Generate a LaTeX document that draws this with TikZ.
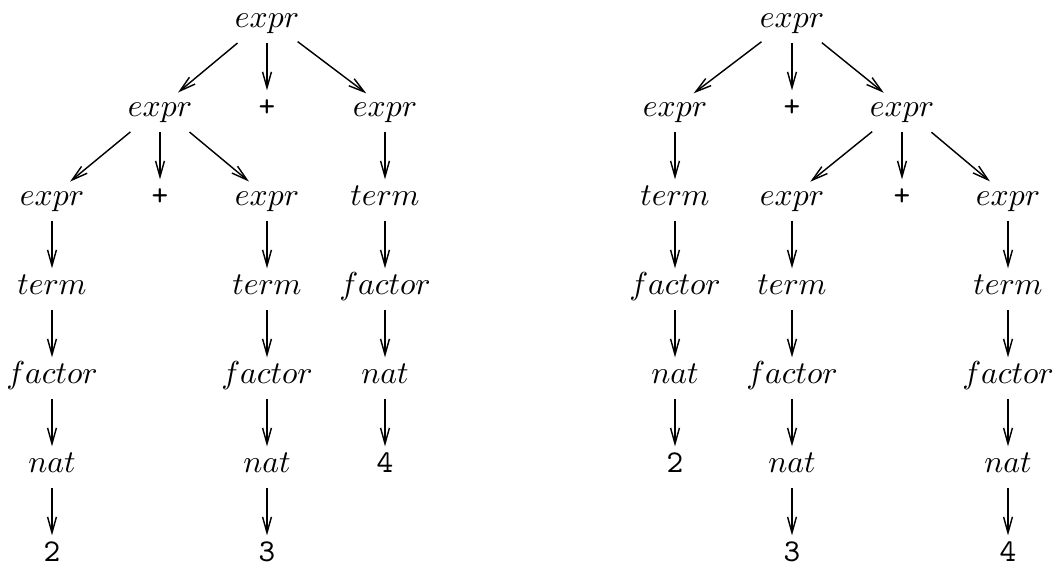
\documentclass[tikz,border=0pt]{standalone}
\usetikzlibrary{arrows.meta}
\begin{document}
\begin{tikzpicture}[x=0.3153pt,y=-0.3153pt,
  lbl/.style={inner sep=0pt,text height=7.4pt,text depth=2pt},
  tok/.style={lbl,font=\ttfamily},
  edge/.style={line width=0.45pt,-{Straight Barb[length=5pt,width=2.8pt,line width=0.45pt]}},
  vert/.style={edge,shorten <=7.7pt,shorten >=5.4pt},
  diag/.style={edge,shorten <=12.1pt,shorten >=7.4pt}]
\useasboundingbox (0,0) rectangle (1053,566);
% rows (node centres)
\def\ra{18.5}\def\rb{107.5}\def\rc{196.5}\def\rd{285.5}\def\re{374.5}\def\rf{463.5}\def\rg{552.5}
% ---------- left tree ----------
\node[lbl] (L0) at (267,\ra) {$expr$};
\node[lbl] (L1a) at (160,\rb) {$expr$};
\node[tok] (L1b) at (267,\rb) {+};
\node[lbl] (L1c) at (385,\rb) {$expr$};
\node[lbl] (L2a) at (52,\rc) {$expr$};
\node[tok] (L2b) at (160,\rc) {+};
\node[lbl] (L2c) at (267,\rc) {$expr$};
\node[lbl] (L2d) at (385,\rc) {$term$};
\node[lbl] (L3a) at (52,\rd) {$term$};
\node[lbl] (L3c) at (267,\rd) {$term$};
\node[lbl] (L3d) at (385,\rd) {$factor$};
\node[lbl] (L4a) at (52,\re) {$factor$};
\node[lbl] (L4c) at (267,\re) {$factor$};
\node[lbl] (L4d) at (385,\re) {$nat$};
\node[lbl] (L5a) at (52,\rf) {$nat$};
\node[lbl] (L5c) at (267,\rf) {$nat$};
\node[tok] (L5d) at (385,\rf) {4};
\node[tok] (L6a) at (52,\rg) {2};
\node[tok] (L6c) at (267,\rg) {3};
\draw[diag] (L0.center) -- (L1a.center);
\draw[vert] (L0.center) -- (L1b.center);
\draw[diag] (L0.center) -- (L1c.center);
\draw[diag] (L1a.center) -- (L2a.center);
\draw[vert] (L1a.center) -- (L2b.center);
\draw[diag] (L1a.center) -- (L2c.center);
\draw[vert] (L1c.center) -- (L2d.center);
\draw[vert] (L2a.center) -- (L3a.center);
\draw[vert] (L2c.center) -- (L3c.center);
\draw[vert] (L2d.center) -- (L3d.center);
\draw[vert] (L3a.center) -- (L4a.center);
\draw[vert] (L3c.center) -- (L4c.center);
\draw[vert] (L3d.center) -- (L4d.center);
\draw[vert] (L4a.center) -- (L5a.center);
\draw[vert] (L4c.center) -- (L5c.center);
\draw[vert] (L4d.center) -- (L5d.center);
\draw[vert] (L5a.center) -- (L6a.center);
\draw[vert] (L5c.center) -- (L6c.center);
% ---------- right tree ----------
\node[lbl] (R0) at (792,\ra) {$expr$};
\node[lbl] (R1a) at (675,\rb) {$expr$};
\node[tok] (R1b) at (792,\rb) {+};
\node[lbl] (R1c) at (902,\rb) {$expr$};
\node[lbl] (R2a) at (675,\rc) {$term$};
\node[lbl] (R2b) at (792,\rc) {$expr$};
\node[tok] (R2c) at (902,\rc) {+};
\node[lbl] (R2d) at (1008,\rc) {$expr$};
\node[lbl] (R3a) at (675,\rd) {$factor$};
\node[lbl] (R3b) at (792,\rd) {$term$};
\node[lbl] (R3d) at (1008,\rd) {$term$};
\node[lbl] (R4a) at (675,\re) {$nat$};
\node[lbl] (R4b) at (792,\re) {$factor$};
\node[lbl] (R4d) at (1008,\re) {$factor$};
\node[tok] (R5a) at (675,\rf) {2};
\node[lbl] (R5b) at (792,\rf) {$nat$};
\node[lbl] (R5d) at (1008,\rf) {$nat$};
\node[tok] (R6b) at (792,\rg) {3};
\node[tok] (R6d) at (1008,\rg) {4};
\draw[diag] (R0.center) -- (R1a.center);
\draw[vert] (R0.center) -- (R1b.center);
\draw[diag] (R0.center) -- (R1c.center);
\draw[vert] (R1a.center) -- (R2a.center);
\draw[diag] (R1c.center) -- (R2b.center);
\draw[vert] (R1c.center) -- (R2c.center);
\draw[diag] (R1c.center) -- (R2d.center);
\draw[vert] (R2a.center) -- (R3a.center);
\draw[vert] (R2b.center) -- (R3b.center);
\draw[vert] (R2d.center) -- (R3d.center);
\draw[vert] (R3a.center) -- (R4a.center);
\draw[vert] (R3b.center) -- (R4b.center);
\draw[vert] (R3d.center) -- (R4d.center);
\draw[vert] (R4a.center) -- (R5a.center);
\draw[vert] (R4b.center) -- (R5b.center);
\draw[vert] (R4d.center) -- (R5d.center);
\draw[vert] (R5b.center) -- (R6b.center);
\draw[vert] (R5d.center) -- (R6d.center);
\end{tikzpicture}
\end{document}
